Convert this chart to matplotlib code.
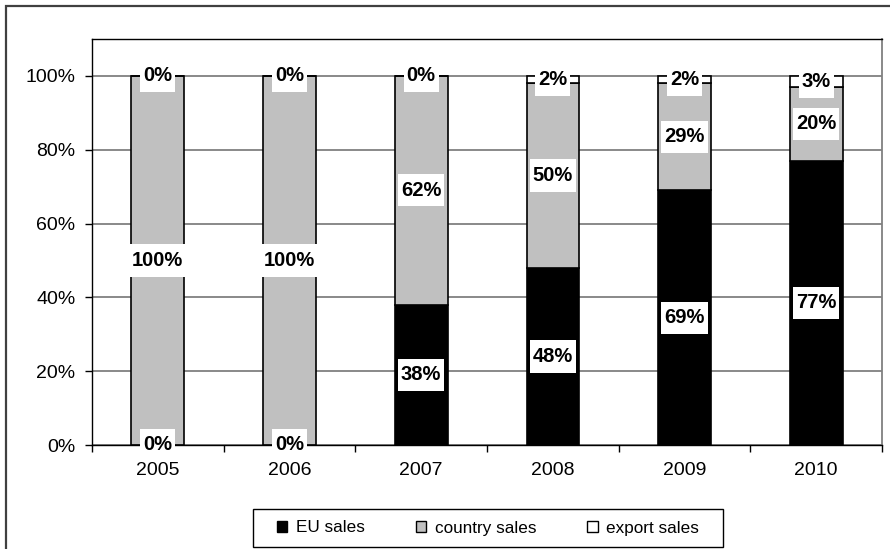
import matplotlib
matplotlib.use("Agg")
import matplotlib.pyplot as plt
from matplotlib.path import Path
from matplotlib.patches import Rectangle, Patch
from matplotlib.ticker import FuncFormatter, FixedLocator
import numpy as np

plt.rcParams['font.family'] = ['Liberation Sans', 'DejaVu Sans']

years = ['2005', '2006', '2007', '2008', '2009', '2010']
eu_sales = [0, 0, 38, 48, 69, 77]
country_sales = [100, 100, 62, 50, 29, 20]
export_sales = [0, 0, 0, 2, 2, 3]
series_names = ['EU sales', 'country sales', 'export sales']
colors = ['black', '#C0C0C0', 'white']


def label_box(x0, y0, width, height, mutation_size):
    px = 0.15 * mutation_size
    py = 0.33 * mutation_size
    x0 -= px
    y0 -= py
    x1 = x0 + width + 2 * px
    y1 = y0 + height + 2 * py
    return Path([(x0, y0), (x1, y0), (x1, y1), (x0, y1), (x0, y0)], closed=True)


fig = plt.figure(figsize=(8.9, 5.49), dpi=100)
ax = fig.add_axes([92 / 890, 1 - 445 / 549, (882 - 92) / 890, (445 - 39) / 549])

x = np.arange(len(years))
series = [eu_sales, country_sales, export_sales]
bottom = np.zeros(len(years))
for vals, col, name in zip(series, colors, series_names):
    vals = np.array(vals, dtype=float)
    ax.bar(x, vals, width=0.4, bottom=bottom, color=col, edgecolor='black',
           linewidth=1.2, label=name, zorder=2)
    for xi, b, v in zip(x, bottom, vals):
        ax.text(xi, b + v / 2, f"{int(v)}%", ha='center', va='center',
                fontsize=14.5, fontweight='bold', color='black', zorder=5,
                bbox=dict(boxstyle=label_box, facecolor='white', edgecolor='none'))
    bottom = bottom + vals

ax.set_xlim(-0.5, len(years) - 0.5)
ax.set_ylim(0, 110)
ax.set_yticks([0, 20, 40, 60, 80, 100])
ax.yaxis.set_major_formatter(FuncFormatter(lambda v, p: f"{int(v)}%"))
ax.set_xticks(x)
ax.set_xticklabels(years)
ax.xaxis.set_minor_locator(FixedLocator(np.arange(-0.5, len(years), 1.0)))
ax.tick_params(axis='x', which='major', length=0, pad=12, labelsize=14)
ax.tick_params(axis='x', which='minor', length=5, width=1, direction='out', color='black')
ax.tick_params(axis='y', length=5, width=1, direction='out', pad=7, labelsize=14)

ax.grid(axis='y', color='#808080', linewidth=1.3, zorder=0)
ax.set_axisbelow(True)
for side in ['top', 'left', 'bottom']:
    ax.spines[side].set_color('black')
    ax.spines[side].set_linewidth(1.0)
ax.spines['right'].set_color('#808080')
ax.spines['right'].set_linewidth(1.3)

fig.patches.append(Rectangle((6 / 890, -0.5), 2, 1 - 6 / 549 + 0.5,
                             transform=fig.transFigure, fill=False,
                             edgecolor='#404040', linewidth=1.6, zorder=-2))

handles = [Patch(facecolor=c, edgecolor='black', linewidth=1.0) for c in colors]
leg = ax.legend(handles, series_names, loc='center', bbox_to_anchor=(488 / 890, 1 - 528 / 549),
                bbox_transform=fig.transFigure, ncol=3, frameon=False,
                handlelength=0.6, handleheight=0.6,
                handletextpad=0.5, columnspacing=3.0, borderpad=0.65, borderaxespad=0,
                prop={'size': 12.3})

# legend frame with wider horizontal padding, like the reference
fig.canvas.draw()
bb = leg.get_window_extent()
fw, fh = fig.bbox.width, fig.bbox.height
padx = 13
fig.patches.append(Rectangle(((bb.x0 - padx) / fw, bb.y0 / fh),
                             (bb.width + 2 * padx) / fw, bb.height / fh,
                             transform=fig.transFigure, fill=True, facecolor='white',
                             edgecolor='black', linewidth=1.0, zorder=-1))

fig.savefig('out.png', dpi=100)
